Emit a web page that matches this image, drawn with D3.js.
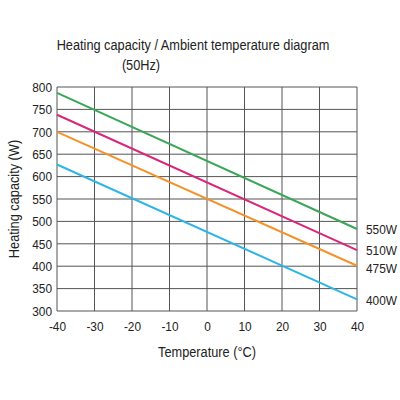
<!DOCTYPE html>
<html>
<head>
<meta charset="utf-8">
<script src="https://cdn.jsdelivr.net/npm/d3@7"></script>
<style>
  body { margin: 0; background: #fff; }
  text { font-family: "Liberation Sans", Arial, sans-serif; fill: #222; }
</style>
</head>
<body>
<div id="container"></div>
<script>
// Hard Code values ---------- ---------- ----------
let canvasW = 400, canvasH = 400;
let plotL = 57, plotR = 357, plotT = 87, plotB = 311;
let narrow = 0.88; // horizontal squeeze to mimic a condensed face
let title = "Heating capacity / Ambient temperature diagram", subtitle = "(50Hz)";
let xLabel = "Temperature (°C)", yLabel = "Heating capacity (W)";

// Data ---------- ---------- ----------
let temps = [-40, 40];
let seriesNames = ["550W", "510W", "475W", "400W"];
let seriesColors = ["#3aa757", "#d9257a", "#f3932a", "#2db5e6"];
let w550 = [787, 483];
let w510 = [738, 436];
let w475 = [700, 401];
let w400 = [627, 326];
let xTicks = [-40, -30, -20, -10, 0, 10, 20, 30, 40];
let yTicks = [300, 350, 400, 450, 500, 550, 600, 650, 700, 750, 800];

let allSeries = [w550, w510, w475, w400];

let svg = d3.select("#container").append("svg").attr("width", canvasW).attr("height", canvasH);

// Text helper: places a squeezed label at (x, y)
function addText(px, py, str, size, anchor, rot) {
    return svg.append("text")
        .attr("transform", "translate(" + px + "," + py + ")" + (rot ? " rotate(" + rot + ")" : "") + " scale(" + narrow + ",1)")
        .attr("text-anchor", anchor).attr("font-size", size).text(str);
}

// Scales
let x = d3.scaleLinear().domain([-40, 40]).range([plotL, plotR]);
let y = d3.scaleLinear().domain([300, 800]).range([plotB, plotT]);

// Grid
svg.append("g").selectAll("line").data(yTicks).enter().append("line")
    .attr("x1", plotL).attr("x2", plotR).attr("y1", d=>y(d)).attr("y2", d=>y(d))
    .attr("stroke", "#555").attr("stroke-width", 1);
svg.append("g").selectAll("line").data(xTicks).enter().append("line")
    .attr("y1", plotT).attr("y2", plotB).attr("x1", d=>x(d)).attr("x2", d=>x(d))
    .attr("stroke", "#555").attr("stroke-width", 1);

// Axes (labels only)
let xAxis = svg.append("g").attr("transform", "translate(0," + plotB + ")")
    .call(d3.axisBottom(x).tickValues(xTicks).tickSize(0).tickPadding(10).tickFormat(d=>String(d)));
let yAxis = svg.append("g").attr("transform", "translate(" + plotL + ",0)")
    .call(d3.axisLeft(y).tickValues(yTicks).tickSize(0).tickPadding(5).tickFormat(d=>String(d)));
[xAxis, yAxis].forEach(a => {
    a.select(".domain").remove();
    a.selectAll("text").attr("font-size", 13.5).attr("font-family", null).attr("fill", "#222")
        .attr("transform", "scale(" + narrow + ",1)");
});
yAxis.selectAll("text").attr("x", -5 / narrow);

// Lines
let line = d3.line().x((d,i)=>x(temps[i])).y(d=>y(d));
svg.append("g").selectAll("path").data(allSeries).enter().append("path")
    .attr("d", line).attr("fill", "none")
    .attr("stroke", (d,i)=>seriesColors[i]).attr("stroke-width", 2);

// Series labels at the right end
let labelY = [w550[1], w510[1], w475[1] - 4, w400[1] - 2];
seriesNames.forEach((n,i) => addText(plotR + 9, y(labelY[i]) + 5, n, 13.5, "start"));

// Titles
addText(193, 50, title, 14.5, "middle");
addText(141, 70, subtitle, 14.5, "middle");
addText(207, 357, xLabel, 14.5, "middle");
addText(19, (plotT + plotB) / 2, yLabel, 14.5, "middle", -90);
</script>
</body>
</html>
